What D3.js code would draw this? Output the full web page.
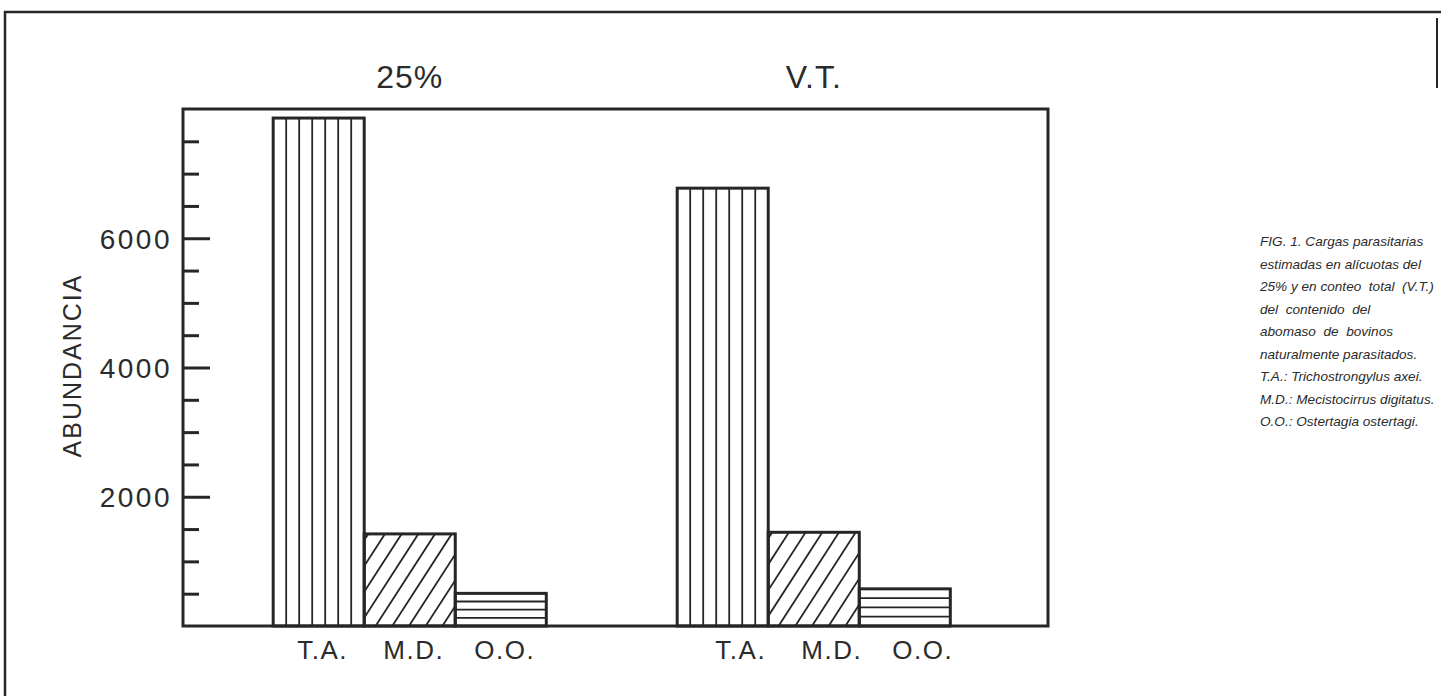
<!DOCTYPE html>
<html>
<head>
<meta charset="utf-8">
<script src="https://cdn.jsdelivr.net/npm/d3@7/dist/d3.min.js"></script>
<style>
  html, body { margin: 0; padding: 0; background: #ffffff; }
  svg { display: block; }
  text { font-family: "Liberation Sans", Arial, Helvetica, sans-serif; fill: #2b2b2b; }
</style>
</head>
<body>
<svg id="chart" width="1441" height="696"></svg>
<script>
// ---- data ----
const groups = ["25%", "V.T."];
const categories = ["T.A.", "M.D.", "O.O."];
const values25 = [7860, 1425, 505];
const valuesVT = [6775, 1450, 575];
const yTicksMajor = [2000, 4000, 6000];
const yTicksMinor = [500, 1000, 1500, 2500, 3000, 3500, 4500, 5000, 5500, 6500, 7000, 7500];
const yLabel = "ABUNDANCIA";
const caption = [
  "FIG. 1. Cargas parasitarias",
  "estimadas en alícuotas del",
  "25% y en conteo  total  (V.T.)",
  "del  contenido  del",
  "abomaso  de  bovinos",
  "naturalmente parasitados.",
  "T.A.: Trichostrongylus axei.",
  "M.D.: Mecistocirrus digitatus.",
  "O.O.: Ostertagia ostertagi."
];

const seriesByGroup = { "25%": values25, "V.T.": valuesVT };
const ink = "#262626";

const svg = d3.select("#chart");
const plot = { left: 183, right: 1048, top: 109, bottom: 626 };

const y = d3.scaleLinear().domain([0, 8000]).range([plot.bottom, plot.top]);
const xGroup = d3.scaleBand().domain(groups).range([plot.left, plot.right])
  .paddingInner(0.324).paddingOuter(0.2325).align(0.48);
const xCat = d3.scaleBand().domain(categories).range([0, xGroup.bandwidth()]).padding(0);

// outer frame
svg.append("path")
  .attr("d", d3.line()([[5, 696], [5, 12], [1441, 12]]))
  .attr("fill", "none").attr("stroke", ink).attr("stroke-width", 2.5);
svg.append("line").attr("x1", 1437).attr("x2", 1437).attr("y1", 18).attr("y2", 88)
  .attr("stroke", ink).attr("stroke-width", 2);

// data table
const bars = [];
groups.forEach((g, gi) => {
  categories.forEach((c, i) => {
    bars.push({ group: g, gi: gi, cat: c, value: seriesByGroup[g][i] });
  });
});

const defs = svg.append("defs");
bars.forEach((d, i) => {
  d.x0 = xGroup(d.group) + xCat(d.cat);
  d.x1 = d.x0 + xCat.bandwidth();
  d.y0 = y(d.value);
  d.y1 = y(0);
  d.id = "clip" + i;
  defs.append("clipPath").attr("id", d.id)
    .append("rect").attr("x", d.x0).attr("y", d.y0)
    .attr("width", d.x1 - d.x0).attr("height", d.y1 - d.y0);
});

const gBars = svg.append("g");
bars.forEach(d => {
  const g = gBars.append("g");
  const hatch = g.append("g").attr("clip-path", `url(#${d.id})`);
  const w = d.x1 - d.x0, h = d.y1 - d.y0;
  let segs = [];
  if (d.cat === "T.A.") {
    const n = 7;
    for (let k = 1; k < n; k++) {
      const xx = d.x0 + w * k / n;
      segs.push([[xx, d.y0], [xx, d.y1]]);
    }
  } else if (d.cat === "M.D.") {
    const slope = 1.55, step = 16.7;
    const run = h / slope;
    for (let xs = d.x0 - run + 4; xs < d.x1 + step; xs += step) {
      segs.push([[xs, d.y1], [xs + run, d.y0]]);
    }
  } else {
    const n = 4;
    for (let k = 1; k < n; k++) {
      const yy = d.y0 + h * k / n;
      segs.push([[d.x0, yy], [d.x1, yy]]);
    }
  }
  hatch.selectAll("path").data(segs).join("path")
    .attr("d", s => d3.line()(s))
    .attr("stroke", ink).attr("stroke-width", 1.8).attr("fill", "none");
  g.append("rect")
    .attr("x", d.x0).attr("y", d.y0).attr("width", w).attr("height", h)
    .attr("fill", "none").attr("stroke", ink).attr("stroke-width", 3);
});

// plot frame
svg.append("rect")
  .attr("x", plot.left).attr("y", plot.top)
  .attr("width", plot.right - plot.left).attr("height", plot.bottom - plot.top)
  .attr("fill", "none").attr("stroke", ink).attr("stroke-width", 3);

// y axis ticks (inward) via d3 axis
const axisMinor = d3.axisRight(y).tickValues(yTicksMinor).tickSize(16).tickFormat("");
const axisMajor = d3.axisRight(y).tickValues(yTicksMajor).tickSize(27).tickFormat("");
[axisMinor, axisMajor].forEach(ax => {
  const ga = svg.append("g").attr("transform", `translate(${plot.left},0)`).call(ax);
  ga.select(".domain").remove();
  ga.selectAll(".tick line").attr("stroke", ink).attr("stroke-width", 3);
});
const gl = svg.append("g").attr("transform", `translate(${plot.left},0)`)
  .call(d3.axisLeft(y).tickValues(yTicksMajor).tickSize(0).tickPadding(11).tickFormat(d3.format("d")));
gl.select(".domain").remove();
gl.selectAll(".tick text")
  .style("font-family", '"Liberation Sans", Arial, sans-serif')
  .attr("font-size", 28).attr("fill", "#2b2b2b")
  .style("letter-spacing", "2.5px").attr("dy", "0.36em");

// y label
svg.append("text")
  .attr("transform", `translate(81, ${(plot.top + plot.bottom) / 2 - 2}) rotate(-90)`)
  .attr("text-anchor", "middle")
  .attr("font-size", 25).style("letter-spacing", "2px")
  .text(yLabel);

// category labels
svg.append("g").selectAll("text").data(bars).join("text")
  .attr("x", d => (d.x0 + d.x1) / 2 + 4 + d.gi * 14)
  .attr("y", 659)
  .attr("text-anchor", "middle")
  .attr("font-size", 26).style("letter-spacing", "1.5px")
  .text(d => d.cat);

// group titles
svg.append("g").selectAll("text").data(groups).join("text")
  .attr("x", g => xGroup(g) + xGroup.bandwidth() / 2)
  .attr("y", 88)
  .attr("text-anchor", "middle")
  .attr("font-size", 32).style("letter-spacing", "1px")
  .text(g => g);

// caption
svg.append("g").selectAll("text").data(caption).join("text")
  .attr("x", 1260)
  .attr("y", (d, i) => 246 + i * 22.5)
  .attr("font-size", 13.6).attr("font-style", "italic")
  .style("white-space", "pre")
  .attr("fill", "#222")
  .text(d => d);
</script>
</body>
</html>
